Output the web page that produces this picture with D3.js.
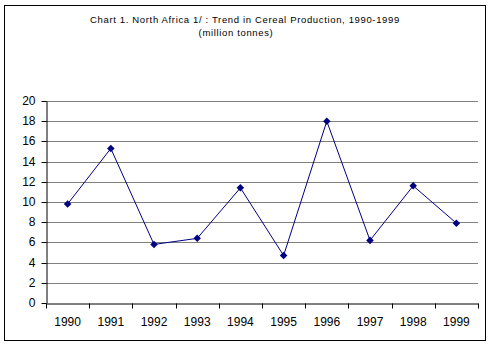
<!DOCTYPE html>
<html><head><meta charset="utf-8">
<script src="https://cdn.jsdelivr.net/npm/d3@7"></script>
<style>body{margin:0;background:#fff}svg{display:block}</style>
</head><body>
<script>
const years = ["1990","1991","1992","1993","1994","1995","1996","1997","1998","1999"];
const production = [9.8, 15.3, 5.8, 6.4, 11.4, 4.7, 18.0, 6.2, 11.6, 7.9];
const yTicks = [0,2,4,6,8,10,12,14,16,18,20];
const titleLines = ["Chart 1. North Africa 1/ : Trend in Cereal Production, 1990-1999", "(million tonnes)"];

(function(){
const W = 494, H = 348;
const svg = d3.select("body").append("svg").attr("width", W).attr("height", H);
svg.append("rect").attr("x",4.5).attr("y",5.5).attr("width",481).attr("height",335)
  .attr("fill","#fff").attr("stroke","#000").attr("stroke-width",1);

const pLeft = 46, pRight = 478, pTop = 101, pBottom = 303;
const x = d3.scaleBand().domain(years).range([pLeft, pRight]);
const y = d3.scaleLinear().domain([0,20]).range([pBottom, pTop]);

// gridlines
svg.append("g").selectAll("line").data(yTicks.filter(d=>d>0)).join("line")
  .attr("x1", pLeft).attr("x2", pRight)
  .attr("y1", d=>Math.round(y(d))+0.5).attr("y2", d=>Math.round(y(d))+0.5)
  .attr("stroke","#808080").attr("stroke-width",1);

// y axis
const yAxis = svg.append("g").attr("transform",`translate(${pLeft+0.5},0)`)
  .call(d3.axisLeft(y).tickValues(yTicks).tickSize(5).tickPadding(6).tickSizeOuter(0));
yAxis.select(".domain").attr("stroke","#000");
yAxis.selectAll(".tick line").attr("stroke","#000");
yAxis.selectAll(".tick").attr("transform", d=>`translate(0,${Math.round(y(d))+0.5})`);
yAxis.selectAll("text").attr("font-family","Liberation Sans, Arial, sans-serif").attr("font-size",12).attr("fill","#000");

// x axis
const xAxis = svg.append("g").attr("transform",`translate(0,${pBottom+0.5})`)
  .call(d3.axisBottom(x).tickSize(0).tickPadding(14).tickSizeOuter(0));
xAxis.select(".domain").attr("stroke","#000");
xAxis.selectAll("text").attr("font-family","Liberation Sans, Arial, sans-serif").attr("font-size",12).attr("fill","#000");
const bounds = years.map(d=>x(d)).concat([pRight]);
xAxis.append("g").selectAll("line").data(bounds).join("line")
  .attr("x1", d=>Math.round(d)+0.5).attr("x2", d=>Math.round(d)+0.5)
  .attr("y1",0).attr("y2",5).attr("stroke","#000");

// line
const cx = d => x(d) + x.bandwidth()/2;
const line = d3.line().x((d,i)=>cx(years[i])).y(d=>y(d));
svg.append("path").datum(production).attr("d", line)
  .attr("fill","none").attr("stroke","#000080").attr("stroke-width",1);

// markers
svg.append("g").selectAll("path").data(production).join("path")
  .attr("transform",(d,i)=>`translate(${cx(years[i])},${y(d)})`)
  .attr("d", d3.symbol().type(d3.symbolDiamond2).size(36))
  .attr("fill","#000080");

// title
svg.append("g").selectAll("text").data(titleLines).join("text")
  .attr("x",(d,i)=> i===0 ? 245 : 236).attr("y",(d,i)=>23 + i*13)
  .attr("text-anchor","middle")
  .attr("font-family","Liberation Sans, Arial, sans-serif").attr("font-size",9.5)
  .attr("letter-spacing",0.65)
  .attr("fill","#000").text(d=>d);
})();
</script>
</body></html>
